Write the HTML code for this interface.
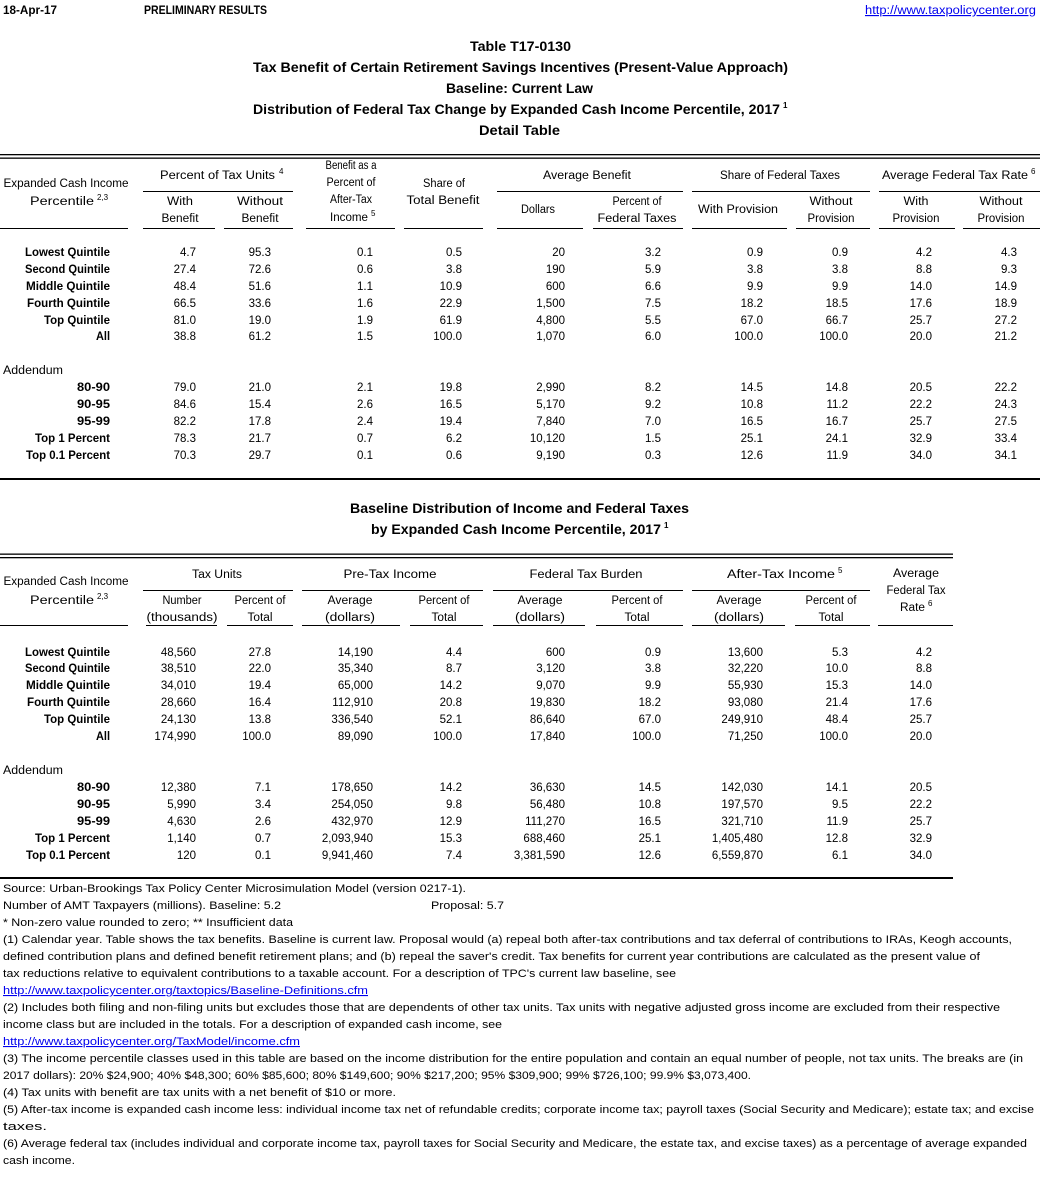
<!DOCTYPE html>
<html><head><meta charset="utf-8"><style>
html,body{margin:0;padding:0;background:#fff;}
svg{display:block;}
text{font-family:"Liberation Sans",sans-serif;fill:#000;}
.t{font-size:11.5px;}
.n{font-size:11.5px;text-anchor:end;}
.c{text-anchor:middle;}
.b{font-weight:bold;}
.sup{font-size:8px;}
.f{font-size:11px;}
.lnk{fill:#0000ee;text-decoration:underline;}
.ttl{font-size:14px;font-weight:bold;}
</style></head><body>
<svg width="1040" height="1186" viewBox="0 0 1040 1186" xmlns="http://www.w3.org/2000/svg">
<rect width="1040" height="1186" fill="#fff"/>
<!-- top header -->
<text class="t b" x="3" y="14" textLength="54" lengthAdjust="spacingAndGlyphs">18-Apr-17</text>
<text class="t b" x="144" y="14" textLength="123" lengthAdjust="spacingAndGlyphs">PRELIMINARY RESULTS</text>
<text class="t lnk" x="865" y="14" textLength="171" lengthAdjust="spacingAndGlyphs">http://www.taxpolicycenter.org</text>

<!-- titles -->
<text class="ttl" x="470" y="51" textLength="101" lengthAdjust="spacingAndGlyphs">Table T17-0130</text>
<text class="ttl" x="253" y="72" textLength="535" lengthAdjust="spacingAndGlyphs">Tax Benefit of Certain Retirement Savings Incentives (Present-Value Approach)</text>
<text class="ttl" x="446" y="93" textLength="147" lengthAdjust="spacingAndGlyphs">Baseline: Current Law</text>
<text class="ttl" x="253" y="114" textLength="527" lengthAdjust="spacingAndGlyphs">Distribution of Federal Tax Change by Expanded Cash Income Percentile, 2017</text>
<text class="sup b" x="783" y="108">1</text>
<text class="ttl" x="479" y="135" textLength="81" lengthAdjust="spacingAndGlyphs">Detail Table</text>

<!-- table 1 lines -->
<rect x="0" y="154" width="1040" height="1.3" fill="#000"/>
<rect x="0" y="157.5" width="1040" height="1.3" fill="#000"/>
<g fill="#000">
<rect x="143" y="191" width="150" height="1"/>
<rect x="497" y="191" width="186" height="1"/>
<rect x="692" y="191" width="178" height="1"/>
<rect x="879" y="191" width="161" height="1"/>
<rect x="0" y="228" width="128" height="1"/>
<rect x="143" y="228" width="72" height="1"/>
<rect x="224" y="228" width="69" height="1"/>
<rect x="306" y="228" width="89" height="1"/>
<rect x="404" y="228" width="79" height="1"/>
<rect x="497" y="228" width="86" height="1"/>
<rect x="593" y="228" width="90" height="1"/>
<rect x="692" y="228" width="95" height="1"/>
<rect x="796" y="228" width="74" height="1"/>
<rect x="879" y="228" width="76" height="1"/>
<rect x="963" y="228" width="77" height="1"/>
<rect x="0" y="478" width="1040" height="2"/>
</g>

<!-- table 1 headers -->
<g class="t">
<text class="c" x="66" y="187" textLength="125" lengthAdjust="spacingAndGlyphs">Expanded Cash Income</text>
<text x="30" y="205" textLength="64" lengthAdjust="spacingAndGlyphs">Percentile</text>
<text class="sup" x="97" y="200">2,3</text>
<text x="160" y="179" textLength="115" lengthAdjust="spacingAndGlyphs">Percent of Tax Units</text>
<text class="sup" x="279" y="174">4</text>
<text class="c" x="180" y="205" textLength="26" lengthAdjust="spacingAndGlyphs">With</text>
<text class="c" x="180" y="222" textLength="37" lengthAdjust="spacingAndGlyphs">Benefit</text>
<text class="c" x="260" y="205" textLength="46" lengthAdjust="spacingAndGlyphs">Without</text>
<text class="c" x="260" y="222" textLength="37" lengthAdjust="spacingAndGlyphs">Benefit</text>
<text class="c" x="351" y="169" textLength="51" lengthAdjust="spacingAndGlyphs">Benefit as a</text>
<text class="c" x="351" y="186" textLength="49" lengthAdjust="spacingAndGlyphs">Percent of</text>
<text class="c" x="351" y="203" textLength="42" lengthAdjust="spacingAndGlyphs">After-Tax</text>
<text x="330" y="221" textLength="38" lengthAdjust="spacingAndGlyphs">Income</text>
<text class="sup" x="371" y="216">5</text>
<text class="c" x="444" y="187" textLength="42" lengthAdjust="spacingAndGlyphs">Share of</text>
<text class="c" x="443" y="204" textLength="73" lengthAdjust="spacingAndGlyphs">Total Benefit</text>
<text class="c" x="587" y="179" textLength="88" lengthAdjust="spacingAndGlyphs">Average Benefit</text>
<text class="c" x="538" y="213" textLength="34" lengthAdjust="spacingAndGlyphs">Dollars</text>
<text class="c" x="637" y="205" textLength="49" lengthAdjust="spacingAndGlyphs">Percent of</text>
<text class="c" x="637" y="222" textLength="79" lengthAdjust="spacingAndGlyphs">Federal Taxes</text>
<text class="c" x="780" y="179" textLength="120" lengthAdjust="spacingAndGlyphs">Share of Federal Taxes</text>
<text class="c" x="738" y="213" textLength="80" lengthAdjust="spacingAndGlyphs">With Provision</text>
<text class="c" x="831" y="205" textLength="43" lengthAdjust="spacingAndGlyphs">Without</text>
<text class="c" x="831" y="222" textLength="47" lengthAdjust="spacingAndGlyphs">Provision</text>
<text x="882" y="179" textLength="146" lengthAdjust="spacingAndGlyphs">Average Federal Tax Rate</text>
<text class="sup" x="1031" y="174">6</text>
<text class="c" x="916" y="205" textLength="25" lengthAdjust="spacingAndGlyphs">With</text>
<text class="c" x="916" y="222" textLength="47" lengthAdjust="spacingAndGlyphs">Provision</text>
<text class="c" x="1001" y="205" textLength="43" lengthAdjust="spacingAndGlyphs">Without</text>
<text class="c" x="1001" y="222" textLength="47" lengthAdjust="spacingAndGlyphs">Provision</text>
</g>

<!-- table 1 row labels -->
<g class="t b" text-anchor="end">
<text x="110" y="256" textLength="85" lengthAdjust="spacingAndGlyphs">Lowest Quintile</text>
<text x="110" y="273" textLength="85" lengthAdjust="spacingAndGlyphs">Second Quintile</text>
<text x="110" y="290" textLength="84" lengthAdjust="spacingAndGlyphs">Middle Quintile</text>
<text x="110" y="307" textLength="83" lengthAdjust="spacingAndGlyphs">Fourth Quintile</text>
<text x="110" y="324" textLength="66" lengthAdjust="spacingAndGlyphs">Top Quintile</text>
<text x="110" y="340" textLength="14" lengthAdjust="spacingAndGlyphs">All</text>
<text x="110" y="391" textLength="33" lengthAdjust="spacingAndGlyphs">80-90</text>
<text x="110" y="408" textLength="33" lengthAdjust="spacingAndGlyphs">90-95</text>
<text x="110" y="425" textLength="33" lengthAdjust="spacingAndGlyphs">95-99</text>
<text x="110" y="442" textLength="75" lengthAdjust="spacingAndGlyphs">Top 1 Percent</text>
<text x="110" y="459" textLength="84" lengthAdjust="spacingAndGlyphs">Top 0.1 Percent</text>
</g>
<text class="t" x="3" y="374" textLength="60" lengthAdjust="spacingAndGlyphs">Addendum</text>

<!-- table 1 data -->
<g class="n">
<g transform="translate(0,256)"><text x="196">4.7</text><text x="271">95.3</text><text x="373">0.1</text><text x="462">0.5</text><text x="565">20</text><text x="661">3.2</text><text x="763">0.9</text><text x="848">0.9</text><text x="932">4.2</text><text x="1017">4.3</text></g>
<g transform="translate(0,273)"><text x="196">27.4</text><text x="271">72.6</text><text x="373">0.6</text><text x="462">3.8</text><text x="565">190</text><text x="661">5.9</text><text x="763">3.8</text><text x="848">3.8</text><text x="932">8.8</text><text x="1017">9.3</text></g>
<g transform="translate(0,290)"><text x="196">48.4</text><text x="271">51.6</text><text x="373">1.1</text><text x="462">10.9</text><text x="565">600</text><text x="661">6.6</text><text x="763">9.9</text><text x="848">9.9</text><text x="932">14.0</text><text x="1017">14.9</text></g>
<g transform="translate(0,307)"><text x="196">66.5</text><text x="271">33.6</text><text x="373">1.6</text><text x="462">22.9</text><text x="565">1,500</text><text x="661">7.5</text><text x="763">18.2</text><text x="848">18.5</text><text x="932">17.6</text><text x="1017">18.9</text></g>
<g transform="translate(0,324)"><text x="196">81.0</text><text x="271">19.0</text><text x="373">1.9</text><text x="462">61.9</text><text x="565">4,800</text><text x="661">5.5</text><text x="763">67.0</text><text x="848">66.7</text><text x="932">25.7</text><text x="1017">27.2</text></g>
<g transform="translate(0,340)"><text x="196">38.8</text><text x="271">61.2</text><text x="373">1.5</text><text x="462">100.0</text><text x="565">1,070</text><text x="661">6.0</text><text x="763">100.0</text><text x="848">100.0</text><text x="932">20.0</text><text x="1017">21.2</text></g>
<g transform="translate(0,391)"><text x="196">79.0</text><text x="271">21.0</text><text x="373">2.1</text><text x="462">19.8</text><text x="565">2,990</text><text x="661">8.2</text><text x="763">14.5</text><text x="848">14.8</text><text x="932">20.5</text><text x="1017">22.2</text></g>
<g transform="translate(0,408)"><text x="196">84.6</text><text x="271">15.4</text><text x="373">2.6</text><text x="462">16.5</text><text x="565">5,170</text><text x="661">9.2</text><text x="763">10.8</text><text x="848">11.2</text><text x="932">22.2</text><text x="1017">24.3</text></g>
<g transform="translate(0,425)"><text x="196">82.2</text><text x="271">17.8</text><text x="373">2.4</text><text x="462">19.4</text><text x="565">7,840</text><text x="661">7.0</text><text x="763">16.5</text><text x="848">16.7</text><text x="932">25.7</text><text x="1017">27.5</text></g>
<g transform="translate(0,442)"><text x="196">78.3</text><text x="271">21.7</text><text x="373">0.7</text><text x="462">6.2</text><text x="565">10,120</text><text x="661">1.5</text><text x="763">25.1</text><text x="848">24.1</text><text x="932">32.9</text><text x="1017">33.4</text></g>
<g transform="translate(0,459)"><text x="196">70.3</text><text x="271">29.7</text><text x="373">0.1</text><text x="462">0.6</text><text x="565">9,190</text><text x="661">0.3</text><text x="763">12.6</text><text x="848">11.9</text><text x="932">34.0</text><text x="1017">34.1</text></g>
</g>

<!-- second title -->
<text class="ttl" x="350" y="513" textLength="339" lengthAdjust="spacingAndGlyphs">Baseline Distribution of Income and Federal Taxes</text>
<text class="ttl" x="371" y="534" textLength="290" lengthAdjust="spacingAndGlyphs">by Expanded Cash Income Percentile, 2017</text>
<text class="sup b" x="664" y="528">1</text>

<!-- table 2 lines -->
<g fill="#000">
<rect x="0" y="553.5" width="953" height="1.3"/>
<rect x="0" y="557" width="953" height="1.3"/>
<rect x="143" y="590" width="150" height="1"/>
<rect x="302" y="590" width="181" height="1"/>
<rect x="493" y="590" width="190" height="1"/>
<rect x="692" y="590" width="178" height="1"/>
<rect x="0" y="625" width="128" height="1"/>
<rect x="146" y="625" width="71" height="1"/>
<rect x="227" y="625" width="66" height="1"/>
<rect x="302" y="625" width="98" height="1"/>
<rect x="410" y="625" width="73" height="1"/>
<rect x="493" y="625" width="92" height="1"/>
<rect x="596" y="625" width="87" height="1"/>
<rect x="692" y="625" width="93" height="1"/>
<rect x="795" y="625" width="75" height="1"/>
<rect x="878" y="625" width="75" height="1"/>
<rect x="0" y="877" width="953" height="2"/>
</g>

<!-- table 2 headers -->
<g class="t">
<text class="c" x="66" y="585" textLength="125" lengthAdjust="spacingAndGlyphs">Expanded Cash Income</text>
<text x="30" y="604" textLength="64" lengthAdjust="spacingAndGlyphs">Percentile</text>
<text class="sup" x="97" y="599">2,3</text>
<text class="c" x="217" y="578" textLength="50" lengthAdjust="spacingAndGlyphs">Tax Units</text>
<text class="c" x="182" y="604" textLength="39" lengthAdjust="spacingAndGlyphs">Number</text>
<text class="c" x="182" y="621" textLength="71" lengthAdjust="spacingAndGlyphs">(thousands)</text>
<text class="c" x="260" y="604" textLength="51" lengthAdjust="spacingAndGlyphs">Percent of</text>
<text class="c" x="260" y="621" textLength="25" lengthAdjust="spacingAndGlyphs">Total</text>
<text class="c" x="390" y="578" textLength="93" lengthAdjust="spacingAndGlyphs">Pre-Tax Income</text>
<text class="c" x="350" y="604" textLength="45" lengthAdjust="spacingAndGlyphs">Average</text>
<text class="c" x="350" y="621" textLength="50" lengthAdjust="spacingAndGlyphs">(dollars)</text>
<text class="c" x="444" y="604" textLength="51" lengthAdjust="spacingAndGlyphs">Percent of</text>
<text class="c" x="444" y="621" textLength="25" lengthAdjust="spacingAndGlyphs">Total</text>
<text class="c" x="586" y="578" textLength="113" lengthAdjust="spacingAndGlyphs">Federal Tax Burden</text>
<text class="c" x="540" y="604" textLength="45" lengthAdjust="spacingAndGlyphs">Average</text>
<text class="c" x="540" y="621" textLength="50" lengthAdjust="spacingAndGlyphs">(dollars)</text>
<text class="c" x="637" y="604" textLength="51" lengthAdjust="spacingAndGlyphs">Percent of</text>
<text class="c" x="637" y="621" textLength="25" lengthAdjust="spacingAndGlyphs">Total</text>
<text x="727" y="578" textLength="108" lengthAdjust="spacingAndGlyphs">After-Tax Income</text>
<text class="sup" x="838" y="573">5</text>
<text class="c" x="739" y="604" textLength="45" lengthAdjust="spacingAndGlyphs">Average</text>
<text class="c" x="739" y="621" textLength="50" lengthAdjust="spacingAndGlyphs">(dollars)</text>
<text class="c" x="831" y="604" textLength="51" lengthAdjust="spacingAndGlyphs">Percent of</text>
<text class="c" x="831" y="621" textLength="25" lengthAdjust="spacingAndGlyphs">Total</text>
<text class="c" x="916" y="577" textLength="46" lengthAdjust="spacingAndGlyphs">Average</text>
<text class="c" x="916" y="594" textLength="59" lengthAdjust="spacingAndGlyphs">Federal Tax</text>
<text x="900" y="611" textLength="25" lengthAdjust="spacingAndGlyphs">Rate</text>
<text class="sup" x="928" y="606">6</text>
</g>

<!-- table 2 row labels -->
<g class="t b" text-anchor="end">
<text x="110" y="656" textLength="85" lengthAdjust="spacingAndGlyphs">Lowest Quintile</text>
<text x="110" y="672" textLength="85" lengthAdjust="spacingAndGlyphs">Second Quintile</text>
<text x="110" y="689" textLength="84" lengthAdjust="spacingAndGlyphs">Middle Quintile</text>
<text x="110" y="706" textLength="83" lengthAdjust="spacingAndGlyphs">Fourth Quintile</text>
<text x="110" y="723" textLength="66" lengthAdjust="spacingAndGlyphs">Top Quintile</text>
<text x="110" y="740" textLength="14" lengthAdjust="spacingAndGlyphs">All</text>
<text x="110" y="791" textLength="33" lengthAdjust="spacingAndGlyphs">80-90</text>
<text x="110" y="808" textLength="33" lengthAdjust="spacingAndGlyphs">90-95</text>
<text x="110" y="825" textLength="33" lengthAdjust="spacingAndGlyphs">95-99</text>
<text x="110" y="842" textLength="75" lengthAdjust="spacingAndGlyphs">Top 1 Percent</text>
<text x="110" y="859" textLength="84" lengthAdjust="spacingAndGlyphs">Top 0.1 Percent</text>
</g>
<text class="t" x="3" y="774" textLength="60" lengthAdjust="spacingAndGlyphs">Addendum</text>

<!-- table 2 data -->
<g class="n">
<g transform="translate(0,656)"><text x="196">48,560</text><text x="271">27.8</text><text x="373">14,190</text><text x="462">4.4</text><text x="565">600</text><text x="661">0.9</text><text x="763">13,600</text><text x="848">5.3</text><text x="932">4.2</text></g>
<g transform="translate(0,672)"><text x="196">38,510</text><text x="271">22.0</text><text x="373">35,340</text><text x="462">8.7</text><text x="565">3,120</text><text x="661">3.8</text><text x="763">32,220</text><text x="848">10.0</text><text x="932">8.8</text></g>
<g transform="translate(0,689)"><text x="196">34,010</text><text x="271">19.4</text><text x="373">65,000</text><text x="462">14.2</text><text x="565">9,070</text><text x="661">9.9</text><text x="763">55,930</text><text x="848">15.3</text><text x="932">14.0</text></g>
<g transform="translate(0,706)"><text x="196">28,660</text><text x="271">16.4</text><text x="373">112,910</text><text x="462">20.8</text><text x="565">19,830</text><text x="661">18.2</text><text x="763">93,080</text><text x="848">21.4</text><text x="932">17.6</text></g>
<g transform="translate(0,723)"><text x="196">24,130</text><text x="271">13.8</text><text x="373">336,540</text><text x="462">52.1</text><text x="565">86,640</text><text x="661">67.0</text><text x="763">249,910</text><text x="848">48.4</text><text x="932">25.7</text></g>
<g transform="translate(0,740)"><text x="196">174,990</text><text x="271">100.0</text><text x="373">89,090</text><text x="462">100.0</text><text x="565">17,840</text><text x="661">100.0</text><text x="763">71,250</text><text x="848">100.0</text><text x="932">20.0</text></g>
<g transform="translate(0,791)"><text x="196">12,380</text><text x="271">7.1</text><text x="373">178,650</text><text x="462">14.2</text><text x="565">36,630</text><text x="661">14.5</text><text x="763">142,030</text><text x="848">14.1</text><text x="932">20.5</text></g>
<g transform="translate(0,808)"><text x="196">5,990</text><text x="271">3.4</text><text x="373">254,050</text><text x="462">9.8</text><text x="565">56,480</text><text x="661">10.8</text><text x="763">197,570</text><text x="848">9.5</text><text x="932">22.2</text></g>
<g transform="translate(0,825)"><text x="196">4,630</text><text x="271">2.6</text><text x="373">432,970</text><text x="462">12.9</text><text x="565">111,270</text><text x="661">16.5</text><text x="763">321,710</text><text x="848">11.9</text><text x="932">25.7</text></g>
<g transform="translate(0,842)"><text x="196">1,140</text><text x="271">0.7</text><text x="373">2,093,940</text><text x="462">15.3</text><text x="565">688,460</text><text x="661">25.1</text><text x="763">1,405,480</text><text x="848">12.8</text><text x="932">32.9</text></g>
<g transform="translate(0,859)"><text x="196">120</text><text x="271">0.1</text><text x="373">9,941,460</text><text x="462">7.4</text><text x="565">3,381,590</text><text x="661">12.6</text><text x="763">6,559,870</text><text x="848">6.1</text><text x="932">34.0</text></g>
</g>

<!-- footnotes -->
<g class="f">
<text x="3" y="892" textLength="463" lengthAdjust="spacingAndGlyphs">Source: Urban-Brookings Tax Policy Center Microsimulation Model (version 0217-1).</text>
<text x="3" y="909" textLength="278" lengthAdjust="spacingAndGlyphs">Number of AMT Taxpayers (millions).  Baseline: 5.2</text>
<text x="431" y="909" textLength="73" lengthAdjust="spacingAndGlyphs">Proposal: 5.7</text>
<text x="3" y="926" textLength="290" lengthAdjust="spacingAndGlyphs">* Non-zero value rounded to zero; ** Insufficient data</text>
<text x="3" y="943" textLength="1009" lengthAdjust="spacingAndGlyphs">(1) Calendar year. Table shows the tax benefits. Baseline is current law. Proposal would (a) repeal both after-tax contributions and tax deferral of contributions to IRAs, Keogh accounts,</text>
<text x="3" y="960" textLength="977" lengthAdjust="spacingAndGlyphs">defined contribution plans and defined benefit retirement plans; and (b) repeal the saver's credit. Tax benefits for current year contributions are calculated as the present value of</text>
<text x="3" y="977" textLength="673" lengthAdjust="spacingAndGlyphs">tax reductions relative to equivalent contributions to a taxable account. For a description of TPC's current law baseline, see</text>
<text class="lnk" x="3" y="994" textLength="365" lengthAdjust="spacingAndGlyphs">http://www.taxpolicycenter.org/taxtopics/Baseline-Definitions.cfm</text>
<text x="3" y="1011" textLength="997" lengthAdjust="spacingAndGlyphs">(2) Includes both filing and non-filing units but excludes those that are dependents of other tax units. Tax units with negative adjusted gross income are excluded from their respective</text>
<text x="3" y="1028" textLength="499" lengthAdjust="spacingAndGlyphs">income class but are included in the totals. For a description of expanded cash income, see</text>
<text class="lnk" x="3" y="1045" textLength="297" lengthAdjust="spacingAndGlyphs">http://www.taxpolicycenter.org/TaxModel/income.cfm</text>
<text x="3" y="1062" textLength="1020" lengthAdjust="spacingAndGlyphs">(3) The income percentile classes used in this table are based on the income distribution for the entire population and contain an equal number of people, not tax units. The breaks are (in</text>
<text x="3" y="1079" textLength="748" lengthAdjust="spacingAndGlyphs">2017 dollars): 20% $24,900; 40% $48,300; 60% $85,600; 80% $149,600; 90% $217,200; 95% $309,900; 99% $726,100; 99.9% $3,073,400.</text>
<text x="3" y="1096" textLength="393" lengthAdjust="spacingAndGlyphs">(4) Tax units with benefit are tax units with a net benefit of $10 or more.</text>
<text x="3" y="1113" textLength="1031" lengthAdjust="spacingAndGlyphs">(5) After-tax income is expanded cash income less: individual income tax net of refundable credits; corporate income tax; payroll taxes (Social Security and Medicare); estate tax; and excise</text>
<text x="3" y="1130" textLength="44" lengthAdjust="spacingAndGlyphs">taxes.</text>
<text x="3" y="1147" textLength="1024" lengthAdjust="spacingAndGlyphs">(6) Average federal tax (includes individual and corporate income tax, payroll taxes for Social Security and Medicare, the estate tax, and excise taxes) as a percentage of average expanded</text>
<text x="3" y="1164" textLength="72" lengthAdjust="spacingAndGlyphs">cash income.</text>
</g>
</svg>
</body></html>
